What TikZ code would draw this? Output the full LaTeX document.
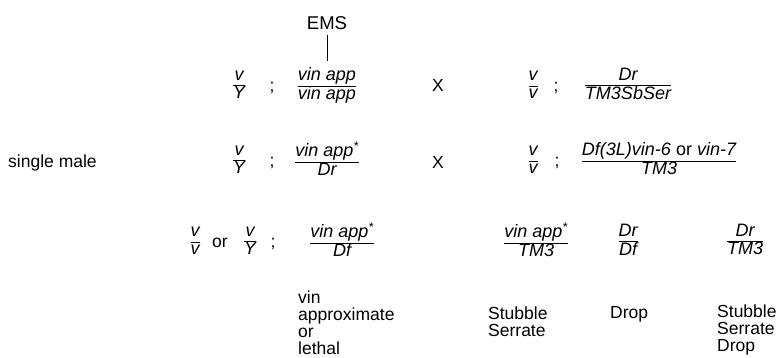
\documentclass[tikz,border=0pt]{standalone}
\usepackage{fontspec}
\setmainfont{Liberation Sans}
\usepackage{array}
\setlength{\arrayrulewidth}{0.9pt}
\newcommand{\gfrac}[2]{\begin{tabular}{@{}c@{}}#1\\\hline #2\end{tabular}}

\begin{document}
\begin{tikzpicture}[x=1pt,y=-1pt,
    txt/.style={inner sep=0pt,font=\fontsize{17.5}{17}\selectfont},
    geno/.style={inner sep=0pt,font=\fontsize{18}{17}\selectfont\itshape},
    note/.style={txt,align=left,anchor=north west}]
    %%%%% START %%%%%
    \useasboundingbox (0,0) rectangle (778,357);

    % first cross
    \node[txt, font=\fontsize{18.5}{17}\selectfont] (ems) at (327,23) {EMS};
    \node[geno] (vY1) at (239,86) {\gfrac{v}{Y}};
    \node[txt] (semi1) at (272,88) {;};
    \node[geno] (hom1) at (327,86) {\gfrac{vin app}{vin app}};
    \node[txt] (cross1) at (438,85) {X};
    \node[geno] (vv1) at (533,86) {\gfrac{v}{v}};
    \node[txt] (semi1b) at (556,88) {;};
    \node[geno] (bal1) at (628,86) {\gfrac{Dr}{TM3SbSer}};
    \draw[line width=1pt, shorten <=5pt, shorten >=6pt] (ems) -- (hom1);

    % second cross
    \node[txt, anchor=west] (male) at (8,163) {single male};
    \node[geno] (vY2) at (239,161) {\gfrac{v}{Y}};
    \node[txt] (semi2) at (272,163) {;};
    \node[geno] (het2) at (327,161) {\gfrac{vin app\textsuperscript{*}}{Dr}};
    \node[txt] (cross2) at (438,162) {X};
    \node[geno] (vv2) at (533,161) {\gfrac{v}{v}};
    \node[txt] (semi2b) at (557,163) {;};
    \node[geno] (bal2) at (659,161) {\gfrac{Df(3L)vin-6 \upshape or \itshape vin-7}{TM3}};

    % progeny classes
    \node[geno] (vv3) at (195,242) {\gfrac{v}{v}};
    \node[txt] (or3) at (220,243) {or};
    \node[geno] (vY3) at (250,242) {\gfrac{v}{Y}};
    \node[txt] (semi3) at (273,244) {;};
    \node[geno] (cls1) at (342,242) {\gfrac{vin app\textsuperscript{*}}{Df}};
    \node[geno] (cls2) at (536,242) {\gfrac{vin app\textsuperscript{*}}{TM3}};
    \node[geno] (cls3) at (628,242) {\gfrac{Dr}{Df}};
    \node[geno] (cls4) at (745,242) {\gfrac{Dr}{TM3}};

    % phenotypes
    \node[note] (ph1) at (298,291) {vin\\approximate\\or\\lethal};
    \node[note] (ph2) at (488,307) {Stubble\\Serrate};
    \node[note] (ph3) at (610,306) {Drop};
    \node[note] (ph4) at (717,305) {Stubble\\Serrate\\Drop};

    %%%%% END %%%%%
\end{tikzpicture}
\end{document}
